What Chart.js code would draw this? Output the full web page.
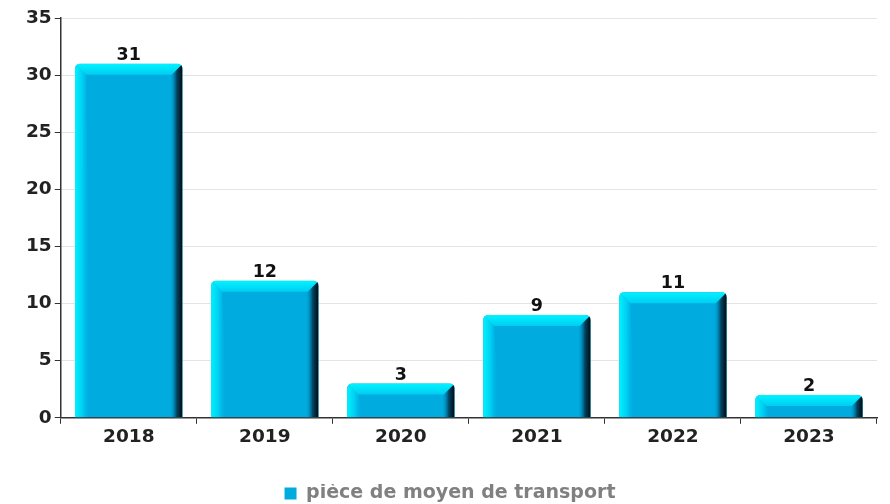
<!DOCTYPE html>
<html>
<head>
<meta charset="utf-8">
<script src="https://cdn.jsdelivr.net/npm/chart.js@4/dist/chart.umd.min.js"></script>
<style>
  html, body { margin: 0; padding: 0; background: #fff; }
  #wrap { width: 890px; height: 504px; }
</style>
</head>
<body>
<div id="wrap"><canvas id="chart"></canvas></div>
<script>
const years = ["2018", "2019", "2020", "2021", "2022", "2023"];
const counts = [31, 12, 3, 9, 11, 2];
const seriesName = "pièce de moyen de transport";

const FACE = "#00abe0";
const BEVEL = 11;
const FONT = "'DejaVu Sans'";

// draws the bevelled "3D" look over every bar plus its value on top
const bevelBars = {
  id: "bevelBars",
  afterDatasetsDraw(chart) {
    const ctx = chart.ctx;
    const meta = chart.getDatasetMeta(0);
    meta.data.forEach((bar, i) => {
      const p = bar.getProps(["x", "y", "base", "width"], true);
      const l = p.x - p.width / 2, r = p.x + p.width / 2;
      const t = p.y, b = p.base;
      const h = b - t;
      const k = Math.min(BEVEL, h / 2, p.width / 4);

      ctx.save();
      ctx.beginPath();
      ctx.roundRect(l, t, r - l, h, [5, 5, 0, 0]);
      ctx.clip();

      // left highlight
      let g = ctx.createLinearGradient(l, 0, l + 16, 0);
      g.addColorStop(0, "rgba(0,244,255,1)");
      g.addColorStop(0.45, "rgba(0,222,250,0.75)");
      g.addColorStop(1, "rgba(0,171,224,0)");
      ctx.fillStyle = g;
      ctx.beginPath();
      ctx.moveTo(l, t);
      ctx.lineTo(l + k, t + k);
      ctx.lineTo(l + k + 5, b);
      ctx.lineTo(l, b);
      ctx.closePath();
      ctx.fill();

      // right shadow side
      g = ctx.createLinearGradient(r - k - 2, 0, r, 0);
      g.addColorStop(0, "rgba(0,171,224,0)");
      g.addColorStop(0.55, "rgba(0,70,100,1)");
      g.addColorStop(1, "#000a10");
      ctx.fillStyle = g;
      ctx.beginPath();
      ctx.moveTo(r, t);
      ctx.lineTo(r, b);
      ctx.lineTo(r - k - 2, b);
      ctx.lineTo(r - k - 2, t + k + 2);
      ctx.closePath();
      ctx.fill();

      // top face
      g = ctx.createLinearGradient(0, t, 0, t + k);
      g.addColorStop(0, "#00f4ff");
      g.addColorStop(1, "#00cdf2");
      ctx.fillStyle = g;
      ctx.beginPath();
      ctx.moveTo(l, t);
      ctx.lineTo(r, t);
      ctx.lineTo(r - k, t + k);
      ctx.lineTo(l + k, t + k);
      ctx.closePath();
      ctx.fill();
      ctx.restore();

      // value label
      ctx.save();
      ctx.fillStyle = "#111";
      ctx.font = "bold 17.5px " + FONT;
      ctx.textAlign = "center";
      ctx.textBaseline = "alphabetic";
      ctx.fillText(String(counts[i]), p.x, t - 4);
      ctx.restore();
    });
  }
};

new Chart(document.getElementById("chart"), {
  type: "bar",
  data: {
    labels: years,
    datasets: [{
      label: seriesName,
      data: counts,
      backgroundColor: FACE,
      borderWidth: 0,
      borderRadius: { topLeft: 5, topRight: 5 },
      borderSkipped: "bottom",
      categoryPercentage: 1,
      barPercentage: 0.79
    }]
  },
  options: {
    responsive: true,
    maintainAspectRatio: false,
    animation: false,
    devicePixelRatio: 1,
    layout: { padding: { top: 18, left: 23, right: 13, bottom: -9 } },
    plugins: {
      tooltip: { enabled: false },
      legend: {
        position: "bottom",
        labels: {
          boxWidth: 12,
          boxHeight: 12,
          color: "#808080",
          padding: 0,
          font: { family: FONT, size: 19, weight: "bold" }
        }
      }
    },
    scales: {
      x: {
        grid: { drawOnChartArea: false, offset: true, tickLength: 6, color: "#333" },
        border: { color: "#333", width: 1.5 },
        ticks: {
          color: "#222",
          padding: 2,
          font: { family: FONT, size: 18.5, weight: "bold" }
        },
        // leave room between the year labels and the legend
        afterFit(scale) { scale.height += 34; }
      },
      y: {
        min: 0,
        max: 35,
        grid: { color: "#e4e4e4", tickColor: "#333", tickLength: 6 },
        border: { color: "#333", width: 1.5 },
        ticks: {
          stepSize: 5,
          color: "#222",
          padding: 3,
          font: { family: FONT, size: 18.5, weight: "bold" }
        }
      }
    }
  },
  plugins: [bevelBars]
});
</script>
</body>
</html>
